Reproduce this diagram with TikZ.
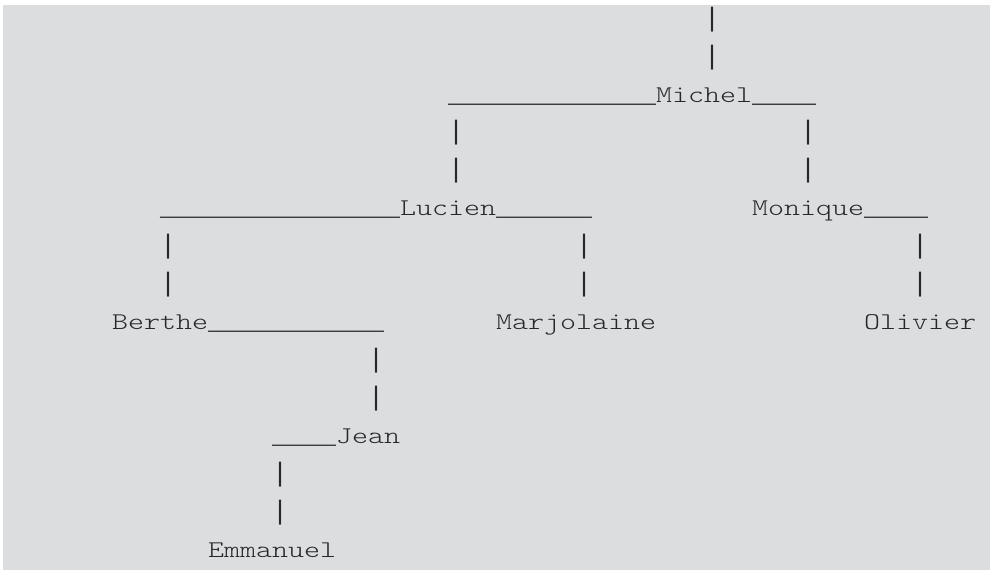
\documentclass[tikz,border=0pt]{standalone}
\usepackage{fontspec}
\newfontfamily\asciimono{lmmonolt10-regular.otf}[FakeStretch=1.27]
\newfontfamily\rulemono{Liberation Mono}
\definecolor{bggray}{RGB}{220,221,223}
\definecolor{inkgray}{RGB}{40,40,40}
% n underscores / one bar, drawn with Liberation Mono (continuous underscores, tall bars)
\newcommand{\lus}[1]{{\rulemono\fontsize{26.67}{30}\selectfont\foreach \k in {1,...,#1}{\_}}}
\newcommand{\lbar}{{\rulemono\fontsize{26.67}{30}\selectfont|}}
\begin{document}
\begin{tikzpicture}[x=1pt,y=-1pt,
  txt/.style={anchor=base west, inner sep=0pt, outer sep=0pt, text=inkgray,
    font=\asciimono\fontsize{24}{28}\selectfont}]
\useasboundingbox (0,0) rectangle (990,570);
\fill[bggray] (3,5) rectangle (990,570);
% column c -> x = 160 + 16 c ; row r -> y = 26.2 + 37.92 r
\def\cx#1{\fpeval{160+16*(#1)}}
\def\ry#1{\fpeval{26.2+37.92*(#1)}}
% row 0,1: top bar
\node[txt] (t0) at (\cx{34},\ry{0}) {\lbar};
\node[txt] (t1) at (\cx{34},\ry{1}) {\lbar};
% row 2: Michel
\node[txt] (michel) at (\cx{18},\ry{2}) {\lus{13}Michel\lus{4}};
% rows 3,4
\node[txt] (m3a) at (\cx{18},\ry{3}) {\lbar};
\node[txt] (m3b) at (\cx{40},\ry{3}) {\lbar};
\node[txt] (m4a) at (\cx{18},\ry{4}) {\lbar};
\node[txt] (m4b) at (\cx{40},\ry{4}) {\lbar};
% row 5
\node[txt] (lucien) at (\cx{0},\ry{5}) {\lus{15}Lucien\lus{6}};
\node[txt] (monique) at (\cx{37},\ry{5}) {Monique\lus{4}};
% rows 6,7
\node[txt] (l6a) at (\cx{0},\ry{6}) {\lbar};
\node[txt] (l6b) at (\cx{26},\ry{6}) {\lbar};
\node[txt] (l6c) at (\cx{47},\ry{6}) {\lbar};
\node[txt] (l7a) at (\cx{0},\ry{7}) {\lbar};
\node[txt] (l7b) at (\cx{26},\ry{7}) {\lbar};
\node[txt] (l7c) at (\cx{47},\ry{7}) {\lbar};
% row 8
\node[txt] (berthe) at (\cx{-3},\ry{8}) {Berthe\lus{11}};
\node[txt] (marjolaine) at (\cx{21},\ry{8}) {Marjolaine};
\node[txt] (olivier) at (\cx{44},\ry{8}) {Olivier};
% rows 9,10
\node[txt] (b9) at (\cx{13},\ry{9}) {\lbar};
\node[txt] (b10) at (\cx{13},\ry{10}) {\lbar};
% row 11
\node[txt] (jean) at (\cx{7},\ry{11}) {\lus{4}Jean};
% rows 12,13
\node[txt] (j12) at (\cx{7},\ry{12}) {\lbar};
\node[txt] (j13) at (\cx{7},\ry{13}) {\lbar};
% row 14
\node[txt] (emmanuel) at (\cx{3},\ry{14}) {Emmanuel};
\end{tikzpicture}
\end{document}
